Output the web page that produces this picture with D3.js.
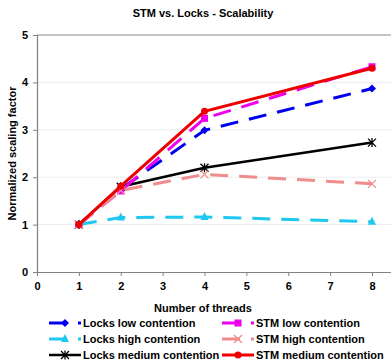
<!DOCTYPE html>
<html>
<head>
<meta charset="utf-8">
<script src="https://cdn.jsdelivr.net/npm/d3@7"></script>
<style>
  html, body { margin: 0; padding: 0; background: #fff; }
  svg { display: block; font-family: "Liberation Sans", Arial, sans-serif; }
</style>
</head>
<body>
<svg id="chart" width="391" height="362"></svg>
<script>
// Thread counts measured
const threads = [1, 2, 4, 8];

// Normalized scaling factor per configuration
const locksLow    = [1.00, 1.75, 2.99, 3.87];
const locksHigh   = [1.00, 1.15, 1.16, 1.06];
const locksMedium = [1.00, 1.80, 2.20, 2.73];
const stmLow      = [1.00, 1.71, 3.24, 4.33];
const stmHigh     = [1.00, 1.72, 2.06, 1.86];
const stmMedium   = [1.00, 1.81, 3.39, 4.30];

const xTicks = [0, 1, 2, 3, 4, 5, 6, 7, 8];
const yTicks = [0, 1, 2, 3, 4, 5];

const series = [
  { name: "Locks low contention",    values: locksLow,    color: "#0000ee", dash: "18,11", marker: "diamond",  width: 3 },
  { name: "Locks high contention",   values: locksHigh,   color: "#1ec8f0", dash: "18,11", marker: "triangle", width: 3 },
  { name: "Locks medium contention", values: locksMedium, color: "#000000", dash: null,    marker: "asterisk", width: 2.5 },
  { name: "STM low contention",      values: stmLow,      color: "#ee00ee", dash: "18,11", marker: "square",   width: 3 },
  { name: "STM high contention",     values: stmHigh,     color: "#f08c8c", dash: "18,11", marker: "cross",    width: 3 },
  { name: "STM medium contention",   values: stmMedium,   color: "#ee0000", dash: null,    marker: "circle",   width: 3 }
];

const svg = d3.select("#chart");
const plotLeft = 37, plotRight = 391, plotTop = 35, plotBottom = 272;

const x = d3.scaleLinear().domain([0, 8]).range([plotLeft, 372]);
const y = d3.scaleLinear().domain([0, 5]).range([plotBottom, plotTop]);

// Title
svg.append("text")
  .attr("x", 203).attr("y", 17)
  .attr("text-anchor", "middle")
  .attr("font-size", 11).attr("font-weight", "bold")
  .text("STM vs. Locks - Scalability");

// Horizontal gridlines
svg.append("g").selectAll("line")
  .data(yTicks.filter(d => d > 0 && d < 5))
  .join("line")
  .attr("x1", plotLeft).attr("x2", plotRight)
  .attr("y1", d => y(d)).attr("y2", d => y(d))
  .attr("stroke", "#ececec").attr("stroke-width", 1);

// Top border of plot area
svg.append("line")
  .attr("x1", plotLeft).attr("x2", plotRight)
  .attr("y1", y(5)).attr("y2", y(5))
  .attr("stroke", "#b0b0b0").attr("stroke-width", 1.5);

// Axes
const xAxis = d3.axisBottom(x).tickValues(xTicks).tickSize(4).tickPadding(6).tickFormat(d3.format("d"));
const yAxis = d3.axisLeft(y).tickValues(yTicks).tickSize(4).tickPadding(5).tickFormat(d3.format("d"));

const gx = svg.append("g").attr("transform", `translate(0,${plotBottom})`).call(xAxis);
const gy = svg.append("g").attr("transform", `translate(${plotLeft},0)`).call(yAxis);

gx.select(".domain").attr("d", `M${plotLeft},0.5H${plotRight}`);
[gx, gy].forEach(g => {
  g.select(".domain").attr("stroke", "#808080").attr("stroke-width", 1.2);
  g.selectAll(".tick line").attr("stroke", "#808080");
  g.selectAll(".tick text")
    .attr("font-size", 11).attr("font-weight", "bold")
    .attr("font-family", "Liberation Sans, Arial, sans-serif")
    .attr("fill", "#000");
});

// Axis titles
svg.append("text")
  .attr("x", 203).attr("y", 312)
  .attr("text-anchor", "middle")
  .attr("font-size", 11).attr("font-weight", "bold")
  .text("Number of threads");

svg.append("text")
  .attr("transform", `translate(16,${(plotTop + plotBottom) / 2}) rotate(-90)`)
  .attr("text-anchor", "middle")
  .attr("font-size", 11).attr("font-weight", "bold")
  .text("Normalized scaling factor");

// Marker drawing
function drawMarker(g, type, cx, cy, color) {
  const s = 4;
  if (type === "diamond") {
    g.append("path").attr("d", `M${cx},${cy - s}L${cx + s},${cy}L${cx},${cy + s}L${cx - s},${cy}Z`).attr("fill", color);
  } else if (type === "triangle") {
    g.append("path").attr("d", `M${cx},${cy - s - 1}L${cx + s},${cy + s - 1}L${cx - s},${cy + s - 1}Z`).attr("fill", color);
  } else if (type === "square") {
    g.append("rect").attr("x", cx - 3.5).attr("y", cy - 3.5).attr("width", 7).attr("height", 7).attr("fill", color);
  } else if (type === "circle") {
    g.append("circle").attr("cx", cx).attr("cy", cy).attr("r", 3.5).attr("fill", color);
  } else if (type === "cross") {
    g.append("path").attr("d", `M${cx - 4},${cy - 4}L${cx + 4},${cy + 4}M${cx - 4},${cy + 4}L${cx + 4},${cy - 4}`)
      .attr("stroke", color).attr("stroke-width", 1.3).attr("fill", "none");
  } else if (type === "asterisk") {
    g.append("path").attr("d", `M${cx - 4},${cy - 4}L${cx + 4},${cy + 4}M${cx - 4},${cy + 4}L${cx + 4},${cy - 4}M${cx},${cy - 4.5}L${cx},${cy + 4.5}`)
      .attr("stroke", color).attr("stroke-width", 1.3).attr("fill", "none");
  }
}

const line = d3.line().x(d => x(d[0])).y(d => y(d[1]));

// Series lines and markers
series.forEach(s => {
  const pts = threads.map((t, i) => [t, s.values[i]]);
  svg.append("path")
    .datum(pts)
    .attr("d", line)
    .attr("fill", "none")
    .attr("stroke", s.color)
    .attr("stroke-width", s.width)
    .attr("stroke-dasharray", s.dash);
  const mg = svg.append("g");
  pts.forEach(p => drawMarker(mg, s.marker, x(p[0]), y(p[1]), s.color));
});

// Legend: two columns, three rows
const legendCols = [49, 222];
const legendRows = [323, 339, 355];
series.forEach((s, i) => {
  const col = Math.floor(i / 3), row = i % 3;
  const lx = legendCols[col], ly = legendRows[row];
  const g = svg.append("g");
  g.append("line")
    .attr("x1", lx).attr("x2", lx + 32)
    .attr("y1", ly).attr("y2", ly)
    .attr("stroke", s.color).attr("stroke-width", s.width)
    .attr("stroke-dasharray", s.dash);
  drawMarker(g, s.marker, lx + 16, ly, s.color);
  g.append("text")
    .attr("x", lx + 34).attr("y", ly + 4)
    .attr("font-size", 11).attr("font-weight", "bold")
    .text(s.name);
});
</script>
</body>
</html>
